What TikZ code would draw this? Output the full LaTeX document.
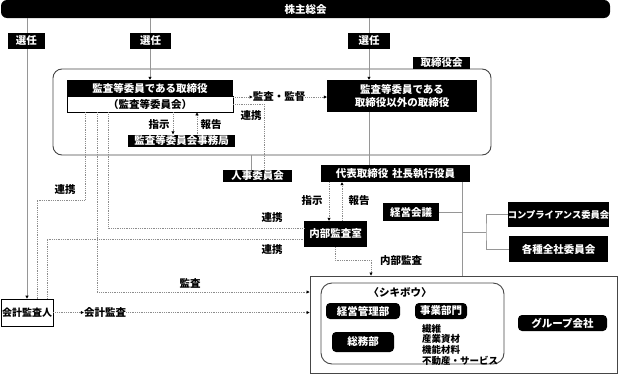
\documentclass[tikz,border=0pt]{standalone}
\usepackage{fontspec}
\setmainfont{Noto Sans CJK JP}
\usetikzlibrary{arrows.meta}
\definecolor{lg}{RGB}{150,150,150}
\definecolor{dg}{RGB}{140,140,140}
\definecolor{fr}{RGB}{70,70,70}
\begin{document}
\begin{tikzpicture}[x=1pt,y=-1pt,
  blk/.style={fill=black,text=white,inner sep=0pt,font=\fontsize{10.5}{12}\selectfont\bfseries},
  wbox/.style={draw=black,fill=white,line width=0.7pt,inner sep=0pt,font=\fontsize{10.5}{12}\selectfont\bfseries},
  frm/.style={draw=fr,line width=0.9pt,fill=none,inner sep=0pt},
  sol/.style={draw=lg,line width=0.9pt},
  dotl/.style={draw=dg,line width=0.7pt,dash pattern=on 0.9pt off 0.9pt},
  arr/.style={-{Triangle[length=3pt,width=3pt,color=black]}},
  lbl/.style={inner sep=0pt,font=\fontsize{10.5}{12}\selectfont\bfseries}
]
\useasboundingbox (0,0) rectangle (619,375);

% helper coordinates
\coordinate (x37) at (37,0);
\coordinate (x47) at (47,0);
\coordinate (x85) at (85,0);
\coordinate (x97) at (97,0);
\coordinate (x108) at (108,0);
\coordinate (x173) at (173,0);
\coordinate (x197) at (197,0);
\coordinate (x251) at (251,0);
\coordinate (x264) at (264,0);
\coordinate (x329) at (329,0);
\coordinate (x335) at (335,0);
\coordinate (x342) at (342,0);
\coordinate (x369) at (369,0);
\coordinate (x371) at (371,0);
\coordinate (x462) at (462,0);
\coordinate (x486) at (486,0);
\coordinate (y200) at (0,200);
\coordinate (y228) at (0,228);
\coordinate (y239) at (0,239);
\coordinate (y260) at (0,260);
\coordinate (y292) at (0,292);
\coordinate (y232) at (0,232);

% frames
\node[frm,rounded corners=9pt,minimum width=438pt,minimum height=86pt] (board) at (272,112) {};
\node[frm,minimum width=307pt,minimum height=97pt] (group) at (463.5,324.5) {};
\node[frm,rounded corners=11pt,minimum width=183pt,minimum height=81pt] (shiki) at (412.5,323.5) {};

% top bar
\node[blk,rounded corners=6pt,minimum width=609pt,minimum height=18pt] (bar) at (305.5,9) {株主総会};

% boxes
\node[blk,minimum width=57pt,minimum height=12pt] (boardlbl) at (441.5,63) {取締役会};
\node[blk,minimum width=166pt,minimum height=16pt] (ktop) at (150,88) {監査等委員である取締役};
\node[wbox,minimum width=166pt,minimum height=16pt] (kbot) at (150,104) {（監査等委員会）};
\node[blk,minimum width=150pt,minimum height=32pt,align=center,font=\fontsize{10.5}{12.5}\selectfont\bfseries] (right) at (402,96) {監査等委員である\\取締役以外の取締役};
\node[blk,minimum width=107pt,minimum height=12pt] (jimu) at (181.5,140.5) {監査等委員会事務局};
\node[blk,minimum width=69pt,minimum height=12pt] (jinji) at (257.5,176) {人事委員会};
\node[blk,minimum width=149pt,minimum height=17pt] (daihyo) at (395.5,173.5) {代表取締役\hspace{4pt}社長執行役員};
\node[blk,minimum width=63pt,minimum height=26pt] (naibu) at (335.5,234) {内部監査室};
\node[blk,minimum width=56pt,minimum height=18pt] (keiei) at (411,212) {経営会議};
\node[blk,minimum width=99pt,minimum height=25pt,font=\fontsize{9.3}{11}\selectfont\bfseries] (comp) at (558.5,214.5) {コンプライアンス委員会};
\node[blk,minimum width=99pt,minimum height=26pt] (kaku) at (558.5,249) {各種全社委員会};
\node[wbox,minimum width=52pt,minimum height=27pt,font=\fontsize{10}{12}\selectfont\bfseries] (kaikei) at (27,312.5) {会計監査人};

% shikibo
\node[lbl] (shikit) at (400,293) {〈シキボウ〉};
\node[blk,rounded corners=4pt,minimum width=74pt,minimum height=16pt] (kanri) at (363,311) {経営管理部};
\node[blk,rounded corners=4pt,minimum width=52pt,minimum height=16pt] (jigyo) at (441,311) {事業部門};
\node[blk,rounded corners=4pt,minimum width=62pt,minimum height=20pt] (somu) at (363,342) {総務部};
\node[lbl,anchor=north west,align=left,font=\fontsize{9.5}{10.6}\selectfont\bfseries] (list) at (422,324) {繊維\\産業資材\\機能材料\\不動産・サービス};
\node[blk,rounded corners=4pt,minimum width=89pt,minimum height=16pt] (grp) at (562.5,323) {グループ会社};

% labels
\node[lbl] (kantoku) at (279,97) {監査・監督};
\node[lbl] (renA) at (251,116) {連携};
\node[lbl] (shijiA) at (159,125) {指示};
\node[lbl] (hokokuA) at (211,125) {報告};
\node[lbl] (renB) at (65,190) {連携};
\node[lbl] (renC) at (272,218) {連携};
\node[lbl] (renD) at (272,250) {連携};
\node[lbl] (kansa) at (190,283) {監査};
\node[lbl] (kk) at (105,312.5) {会計監査};
\node[lbl] (shijiB) at (312,201) {指示};
\node[lbl] (hokokuB) at (359,201) {報告};
\node[lbl] (nkansa) at (401,261) {内部監査};

% solid connectors
\draw[sol,arr] (bar.south -| kaikei.north) -- (kaikei.north);
\draw[sol,arr] (bar.south -| ktop.north) -- (ktop.north);
\draw[sol,arr] (bar.south -| x369) -- (right.north -| x369);
\draw[sol] (right.south -| x369) -- (daihyo.north -| x369);
\draw[sol] (board.south -| x251) -- (jinji.north -| x251);
\draw[sol] (daihyo.south -| x462) -- (group.north -| x462);
\draw[sol] (keiei.east) -- (keiei.east -| x462);
\draw[sol] (x462 |- y232) -- (x486 |- y232);
\draw[sol] (comp.west) -| (x486 |- y232) |- (kaku.west);

% senin boxes on top of lines
\node[blk,minimum width=37pt,minimum height=16pt] (sen1) at (26.5,41) {選任};
\node[blk,minimum width=41pt,minimum height=16pt] (sen2) at (150.5,41) {選任};
\node[blk,minimum width=42pt,minimum height=16pt] (sen3) at (369,41) {選任};

% dotted connectors
\draw[dotl,arr] (kantoku.west -| kbot.east) -- (kantoku.west);
\draw[dotl,arr] (kantoku.east) -- (kantoku.east -| right.west);
\draw[dotl] (kbot.east) -| (jinji.north -| x264);
\draw[dotl,arr] (kbot.south -| x173) -- (jimu.north -| x173);
\draw[dotl,arr] (jimu.north -| x197) -- (kbot.south -| x197);
\draw[dotl] (kbot.south -| x85) -- (x85 |- y200) -| (kaikei.north -| x37);
\draw[dotl] (kbot.south -| x108) |- (naibu.west |- y228);
\draw[dotl] (kaikei.north -| x47) |- (naibu.west |- y239);
\draw[dotl,arr] (kbot.south -| x97) |- (group.west |- y292);
\draw[dotl,arr] (kaikei.east) -- (kk.west);
\draw[dotl,arr] (kk.east) -- (kk.east -| group.west);
\draw[dotl,arr] (daihyo.south -| x329) -- (naibu.north -| x329);
\draw[dotl,arr] (naibu.north -| x342) -- (daihyo.south -| x342);
\draw[dotl,arr] (naibu.south -| x335) -- (x335 |- y260) -| (group.north -| x371);
\end{tikzpicture}
\end{document}
